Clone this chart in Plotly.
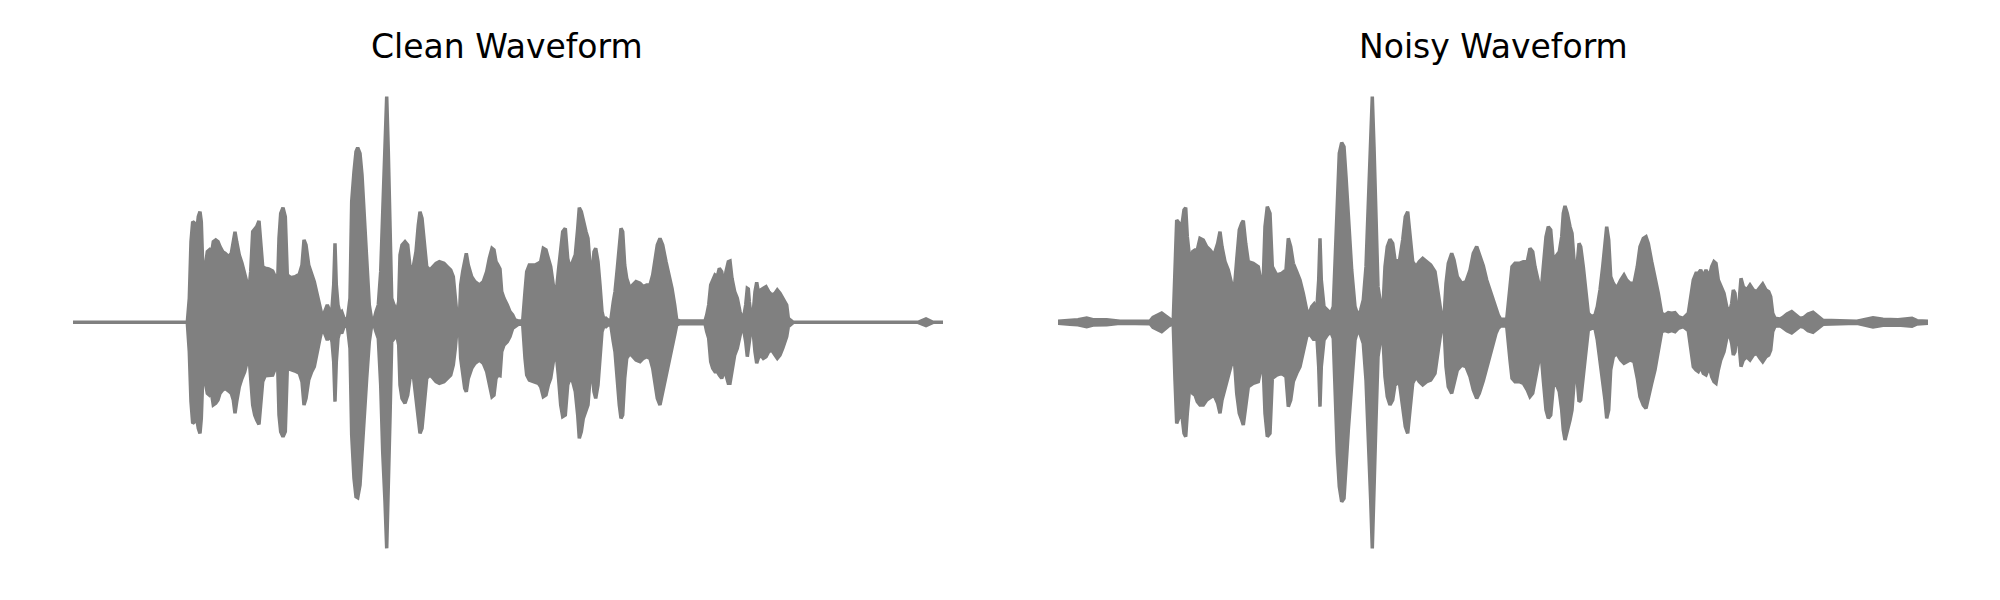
import plotly.graph_objects as go

# ---- data: waveform envelopes (time in s, amplitude) ----
clean_t = [0.0, 1.143, 1.163, 1.18, 1.197, 1.217, 1.237, 1.253, 1.27, 1.283, 1.297, 1.323, 1.343, 1.363, 1.383,
           1.403, 1.427, 1.45, 1.47, 1.497, 1.523, 1.557, 1.583, 1.603, 1.62, 1.637, 1.663, 1.69, 1.717, 1.737,
           1.757, 1.777, 1.797, 1.817, 1.837, 1.86, 1.877, 1.897, 1.923, 1.957, 1.997, 2.023, 2.043, 2.06, 2.077,
           2.1, 2.123, 2.143, 2.177, 2.22, 2.263, 2.29, 2.31, 2.33, 2.357, 2.387, 2.413, 2.443, 2.47, 2.497,
           2.517, 2.543, 2.57, 2.59, 2.607, 2.62, 2.633, 2.65, 2.67, 2.687, 2.71, 2.743, 2.77, 2.787, 2.81,
           2.83, 2.847, 2.87, 2.89, 2.91, 2.937, 2.963, 2.987, 3.01, 3.03, 3.053, 3.077, 3.097, 3.12, 3.137,
           3.153, 3.17, 3.187, 3.21, 3.237, 3.257, 3.27, 3.29, 3.32, 3.347, 3.37, 3.403, 3.43, 3.453, 3.47,
           3.49, 3.51, 3.537, 3.57, 3.603, 3.63, 3.663, 3.71, 3.743, 3.777, 3.803, 3.823, 3.843, 3.863, 3.877,
           3.897, 3.917, 3.933, 3.953, 3.987, 4.02, 4.063, 4.103, 4.137, 4.163, 4.19, 4.21, 4.23, 4.25, 4.27,
           4.287, 4.31, 4.343, 4.37, 4.397, 4.42, 4.453, 4.497, 4.52, 4.537, 4.563, 4.59, 4.62, 4.653, 4.677,
           4.703, 4.73, 4.753, 4.777, 4.803, 4.83, 4.853, 4.877, 4.897, 4.923, 4.947, 4.97, 4.997, 5.023, 5.047,
           5.063, 5.083, 5.103, 5.13, 5.15, 5.17, 5.19, 5.21, 5.227, 5.25, 5.27, 5.29, 5.31, 5.33, 5.35,
           5.377, 5.403, 5.42, 5.443, 5.463, 5.48, 5.497, 5.517, 5.537, 5.57, 5.597, 5.63, 5.67, 5.703, 5.737,
           5.77, 5.797, 5.82, 5.843, 5.87, 5.897, 5.93, 5.963, 5.99, 6.017, 6.037, 6.07, 6.32, 6.337, 6.357,
           6.377, 6.397, 6.42, 6.443, 6.463, 6.487, 6.51, 6.53, 6.553, 6.57, 6.59, 6.617, 6.643, 6.67, 6.69,
           6.71, 6.727, 6.743, 6.753, 6.763, 6.783, 6.803, 6.82, 6.837, 6.853, 6.877, 6.903, 6.93, 6.957, 6.987,
           7.02, 7.043, 7.07, 7.097, 7.123, 7.137, 7.153, 7.177, 7.203, 8.45, 8.53, 8.60, 8.70]
clean_upper = [0.0, 0.0, 0.072, 0.242, 0.302, 0.297, 0.272, 0.317, 0.332, 0.302, 0.172, 0.167, 0.212, 0.217, 0.202,
               0.242, 0.247, 0.242, 0.227, 0.212, 0.207, 0.197, 0.207, 0.242, 0.272, 0.242, 0.202, 0.177, 0.147, 0.122,
               0.092, 0.152, 0.272, 0.282, 0.287, 0.304, 0.252, 0.167, 0.162, 0.16, 0.154, 0.137, 0.087, 0.252, 0.327,
               0.344, 0.317, 0.142, 0.134, 0.137, 0.144, 0.172, 0.247, 0.232, 0.172, 0.142, 0.122, 0.082, 0.042, 0.012,
               0.032, 0.052, 0.032, 0.042, 0.112, 0.237, 0.112, 0.052, 0.027, 0.032, 0.012, 0.007, 0.072, 0.362, 0.452,
               0.512, 0.524, 0.507, 0.442, 0.332, 0.162, 0.052, 0.007, 0.007, 0.032, 0.052, 0.152, 0.312, 0.512, 0.677,
               0.512, 0.292, 0.072, 0.052, 0.032, 0.062, 0.202, 0.232, 0.242, 0.232, 0.167, 0.167, 0.212, 0.292, 0.332,
               0.312, 0.242, 0.167, 0.157, 0.167, 0.177, 0.182, 0.177, 0.167, 0.157, 0.137, 0.072, 0.012, 0.007, 0.112,
               0.152, 0.192, 0.207, 0.172, 0.137, 0.122, 0.112, 0.122, 0.152, 0.192, 0.222, 0.217, 0.182, 0.172, 0.16,
               0.092, 0.072, 0.052, 0.032, 0.022, 0.007, 0.004, 0.004, 0.092, 0.152, 0.172, 0.172, 0.172, 0.177, 0.182,
               0.222, 0.217, 0.192, 0.167, 0.112, 0.082, 0.152, 0.232, 0.272, 0.282, 0.192, 0.162, 0.182, 0.202, 0.282,
               0.344, 0.332, 0.302, 0.272, 0.252, 0.172, 0.142, 0.212, 0.222, 0.182, 0.112, 0.032, 0.007, 0.012, 0.007,
               0.004, 0.062, 0.092, 0.162, 0.242, 0.282, 0.272, 0.172, 0.132, 0.102, 0.112, 0.122, 0.117, 0.107, 0.112,
               0.112, 0.142, 0.192, 0.232, 0.252, 0.232, 0.182, 0.142, 0.102, 0.052, 0.007, 0.004, 0.004, 0.022, 0.052,
               0.112, 0.127, 0.142, 0.137, 0.162, 0.152, 0.112, 0.152, 0.182, 0.184, 0.132, 0.092, 0.072, 0.032, 0.012,
               0.022, 0.052, 0.102, 0.1, 0.062, 0.012, 0.032, 0.092, 0.12, 0.092, 0.097, 0.102, 0.107, 0.092, 0.082,
               0.087, 0.097, 0.087, 0.072, 0.062, 0.052, 0.012, 0.007, 0.0, 0.0, 0.01, 0.0, 0.0]
clean_lower = [0.0, 0.0, -0.088, -0.238, -0.303, -0.298, -0.288, -0.318, -0.333, -0.288, -0.168, -0.178, -0.213, -0.218, -0.208,
               -0.248, -0.243, -0.233, -0.213, -0.203, -0.198, -0.206, -0.213, -0.233, -0.273, -0.238, -0.193, -0.168, -0.148, -0.123,
               -0.088, -0.168, -0.248, -0.278, -0.293, -0.306, -0.253, -0.178, -0.16, -0.16, -0.158, -0.138, -0.088, -0.278, -0.328,
               -0.343, -0.328, -0.138, -0.143, -0.146, -0.153, -0.178, -0.248, -0.228, -0.173, -0.148, -0.133, -0.093, -0.048, -0.013,
               -0.033, -0.053, -0.038, -0.058, -0.118, -0.238, -0.118, -0.048, -0.025, -0.033, -0.013, -0.008, -0.078, -0.338, -0.468,
               -0.523, -0.526, -0.488, -0.408, -0.288, -0.168, -0.058, -0.008, -0.008, -0.028, -0.048, -0.188, -0.388, -0.538, -0.678,
               -0.538, -0.288, -0.058, -0.048, -0.038, -0.068, -0.188, -0.228, -0.243, -0.218, -0.168, -0.158, -0.218, -0.288, -0.333,
               -0.318, -0.248, -0.168, -0.158, -0.168, -0.178, -0.183, -0.178, -0.168, -0.158, -0.128, -0.078, -0.01, -0.008, -0.108,
               -0.148, -0.198, -0.208, -0.168, -0.138, -0.123, -0.113, -0.123, -0.148, -0.188, -0.223, -0.218, -0.168, -0.158, -0.16,
               -0.088, -0.068, -0.058, -0.043, -0.018, -0.013, -0.006, -0.006, -0.108, -0.158, -0.173, -0.176, -0.178, -0.183, -0.193,
               -0.223, -0.218, -0.188, -0.168, -0.118, -0.088, -0.158, -0.248, -0.283, -0.278, -0.188, -0.168, -0.178, -0.208, -0.278,
               -0.348, -0.328, -0.288, -0.263, -0.248, -0.168, -0.148, -0.208, -0.228, -0.188, -0.108, -0.028, -0.01, -0.013, -0.008,
               -0.006, -0.058, -0.088, -0.168, -0.248, -0.288, -0.278, -0.168, -0.108, -0.093, -0.103, -0.113, -0.118, -0.108, -0.103,
               -0.108, -0.138, -0.188, -0.228, -0.248, -0.208, -0.158, -0.118, -0.078, -0.038, -0.008, -0.004, -0.004, -0.028, -0.048,
               -0.118, -0.138, -0.148, -0.148, -0.158, -0.168, -0.148, -0.158, -0.183, -0.183, -0.148, -0.098, -0.078, -0.038, -0.013,
               -0.028, -0.058, -0.103, -0.098, -0.058, -0.013, -0.033, -0.088, -0.123, -0.108, -0.098, -0.108, -0.103, -0.088, -0.083,
               -0.098, -0.108, -0.098, -0.078, -0.058, -0.043, -0.013, -0.008, 0.0, 0.0, -0.01, 0.0, 0.0]

noisy_t = [0.0, 0.12, 0.20, 0.287, 0.35, 0.487, 0.62, 0.92, 0.95, 1.037, 1.10, 1.137, 1.153, 1.17, 1.187,
           1.213, 1.237, 1.26, 1.277, 1.293, 1.32, 1.347, 1.37, 1.393, 1.42, 1.453, 1.487, 1.52, 1.56, 1.597,
           1.62, 1.64, 1.67, 1.703, 1.737, 1.76, 1.787, 1.813, 1.837, 1.853, 1.877, 1.903, 1.953, 2.003, 2.027,
           2.047, 2.07, 2.093, 2.12, 2.143, 2.187, 2.237, 2.28, 2.303, 2.327, 2.353, 2.387, 2.42, 2.453, 2.487,
           2.513, 2.537, 2.56, 2.587, 2.607, 2.62, 2.633, 2.66, 2.693, 2.727, 2.753, 2.773, 2.793, 2.813, 2.837,
           2.86, 2.88, 2.903, 2.937, 2.97, 3.003, 3.027, 3.053, 3.08, 3.103, 3.127, 3.143, 3.16, 3.18, 3.2,
           3.22, 3.247, 3.27, 3.293, 3.32, 3.347, 3.37, 3.413, 3.447, 3.473, 3.497, 3.52, 3.547, 3.58, 3.613,
           3.647, 3.687, 3.727, 3.77, 3.803, 3.837, 3.86, 3.88, 3.903, 3.937, 3.96, 3.993, 4.037, 4.08, 4.12,
           4.153, 4.187, 4.213, 4.253, 4.287, 4.32, 4.353, 4.38, 4.403, 4.427, 4.487, 4.52, 4.54, 4.57, 4.613,
           4.653, 4.693, 4.72, 4.747, 4.77, 4.803, 4.83, 4.853, 4.88, 4.903, 4.927, 4.953, 4.98, 5.013, 5.037,
           5.053, 5.07, 5.093, 5.12, 5.14, 5.16, 5.187, 5.21, 5.227, 5.253, 5.28, 5.303, 5.337, 5.37, 5.393,
           5.42, 5.447, 5.47, 5.487, 5.507, 5.527, 5.553, 5.587, 5.627, 5.66, 5.687, 5.72, 5.76, 5.793, 5.82,
           5.853, 5.88, 5.903, 5.937, 5.97, 6.003, 6.037, 6.07, 6.103, 6.137, 6.17, 6.203, 6.253, 6.303, 6.353,
           6.38, 6.403, 6.427, 6.453, 6.48, 6.513, 6.537, 6.56, 6.58, 6.603, 6.627, 6.66, 6.687, 6.713, 6.737,
           6.753, 6.77, 6.787, 6.807, 6.83, 6.853, 6.887, 6.92, 6.953, 6.987, 7.02, 7.047, 7.08, 7.107, 7.127,
           7.147, 7.17, 7.22, 7.25, 7.29, 7.337, 7.38, 7.42, 7.46, 7.50, 7.55, 7.60, 7.65, 7.99, 8.05,
           8.15, 8.25, 8.40, 8.54, 8.59, 8.70]
noisy_upper = [0.003, 0.006, 0.008, 0.013, 0.008, 0.008, 0.003, 0.004, 0.015, 0.028, 0.012, 0.006, 0.01, 0.167, 0.307,
               0.297, 0.287, 0.337, 0.344, 0.257, 0.182, 0.212, 0.217, 0.217, 0.252, 0.247, 0.227, 0.217, 0.202, 0.237,
               0.272, 0.227, 0.182, 0.157, 0.117, 0.087, 0.187, 0.277, 0.297, 0.305, 0.237, 0.182, 0.177, 0.167, 0.127,
               0.077, 0.287, 0.347, 0.327, 0.167, 0.142, 0.147, 0.157, 0.252, 0.227, 0.177, 0.152, 0.127, 0.087, 0.037,
               0.027, 0.047, 0.055, 0.037, 0.127, 0.252, 0.127, 0.047, 0.037, 0.027, 0.047, 0.207, 0.417, 0.507, 0.539,
               0.527, 0.437, 0.327, 0.157, 0.047, 0.017, 0.037, 0.067, 0.167, 0.377, 0.547, 0.677, 0.527, 0.297, 0.107,
               0.067, 0.027, 0.167, 0.227, 0.249, 0.237, 0.187, 0.182, 0.247, 0.317, 0.332, 0.257, 0.182, 0.167, 0.182,
               0.192, 0.182, 0.172, 0.152, 0.087, 0.017, 0.012, 0.117, 0.177, 0.207, 0.187, 0.137, 0.117, 0.122, 0.157,
               0.207, 0.227, 0.207, 0.17, 0.127, 0.097, 0.067, 0.037, 0.022, 0.009, 0.009, 0.107, 0.167, 0.177, 0.177,
               0.182, 0.182, 0.222, 0.212, 0.167, 0.117, 0.087, 0.167, 0.257, 0.287, 0.277, 0.187, 0.197, 0.212, 0.257,
               0.327, 0.349, 0.327, 0.287, 0.267, 0.187, 0.157, 0.237, 0.227, 0.167, 0.097, 0.027, 0.017, 0.022, 0.047,
               0.097, 0.167, 0.247, 0.287, 0.247, 0.137, 0.117, 0.102, 0.127, 0.142, 0.127, 0.117, 0.117, 0.167, 0.227,
               0.252, 0.257, 0.237, 0.182, 0.137, 0.087, 0.027, 0.022, 0.029, 0.027, 0.029, 0.017, 0.012, 0.027, 0.127,
               0.147, 0.147, 0.157, 0.137, 0.157, 0.137, 0.167, 0.182, 0.177, 0.127, 0.107, 0.087, 0.047, 0.027, 0.057,
               0.097, 0.087, 0.027, 0.047, 0.132, 0.107, 0.097, 0.112, 0.097, 0.092, 0.107, 0.115, 0.097, 0.092, 0.077,
               0.027, 0.012, 0.01, 0.015, 0.025, 0.032, 0.022, 0.012, 0.015, 0.025, 0.030, 0.018, 0.006, 0.003, 0.008,
               0.014, 0.009, 0.008, 0.012, 0.005, 0.003]
noisy_lower = [-0.003, -0.006, -0.007, -0.013, -0.008, -0.007, -0.003, -0.004, -0.015, -0.028, -0.012, -0.006, -0.01, -0.173, -0.303,
               -0.283, -0.273, -0.333, -0.343, -0.273, -0.183, -0.213, -0.218, -0.238, -0.248, -0.248, -0.233, -0.228, -0.218, -0.243,
               -0.273, -0.233, -0.193, -0.163, -0.123, -0.093, -0.213, -0.273, -0.293, -0.308, -0.253, -0.193, -0.183, -0.178, -0.143,
               -0.093, -0.273, -0.343, -0.333, -0.168, -0.158, -0.153, -0.163, -0.253, -0.233, -0.178, -0.153, -0.133, -0.093, -0.043,
               -0.033, -0.043, -0.053, -0.033, -0.133, -0.253, -0.133, -0.053, -0.038, -0.028, -0.048, -0.223, -0.393, -0.493, -0.538,
               -0.528, -0.433, -0.323, -0.173, -0.053, -0.018, -0.038, -0.063, -0.173, -0.373, -0.533, -0.678, -0.523, -0.293, -0.103,
               -0.063, -0.033, -0.163, -0.223, -0.248, -0.233, -0.188, -0.178, -0.253, -0.313, -0.333, -0.263, -0.183, -0.163, -0.178,
               -0.188, -0.178, -0.173, -0.153, -0.083, -0.013, -0.011, -0.133, -0.193, -0.213, -0.183, -0.143, -0.128, -0.133, -0.163,
               -0.203, -0.228, -0.213, -0.175, -0.143, -0.103, -0.063, -0.033, -0.018, -0.011, -0.011, -0.113, -0.168, -0.178, -0.178,
               -0.183, -0.203, -0.223, -0.213, -0.173, -0.123, -0.088, -0.173, -0.263, -0.288, -0.278, -0.193, -0.183, -0.208, -0.263,
               -0.323, -0.353, -0.323, -0.293, -0.263, -0.183, -0.153, -0.238, -0.233, -0.173, -0.093, -0.023, -0.018, -0.018, -0.053,
               -0.103, -0.173, -0.233, -0.288, -0.263, -0.143, -0.103, -0.093, -0.113, -0.123, -0.118, -0.113, -0.118, -0.168, -0.223,
               -0.248, -0.258, -0.233, -0.183, -0.143, -0.093, -0.028, -0.025, -0.028, -0.025, -0.028, -0.018, -0.013, -0.025, -0.133,
               -0.143, -0.148, -0.133, -0.153, -0.158, -0.133, -0.163, -0.178, -0.183, -0.143, -0.113, -0.088, -0.048, -0.033, -0.063,
               -0.098, -0.088, -0.033, -0.053, -0.133, -0.113, -0.103, -0.113, -0.098, -0.093, -0.108, -0.118, -0.103, -0.098, -0.083,
               -0.028, -0.012, -0.01, -0.015, -0.025, -0.032, -0.022, -0.012, -0.015, -0.025, -0.030, -0.018, -0.006, -0.003, -0.008,
               -0.014, -0.009, -0.008, -0.012, -0.005, -0.003]

titles = ["Clean Waveform", "Noisy Waveform"]

GRAY = "#808080"


def outline(t, up, low):
    xs = list(t) + list(reversed(t))
    ys = list(up) + list(reversed(low))
    return xs, ys


fig = go.Figure()
for i, (t, up, low) in enumerate([(clean_t, clean_upper, clean_lower),
                                   (noisy_t, noisy_upper, noisy_lower)]):
    xs, ys = outline(t, up, low)
    fig.add_trace(go.Scatter(
        x=xs, y=ys, mode="lines", fill="toself", fillcolor=GRAY,
        line=dict(color=GRAY, width=3.5), hoverinfo="skip", showlegend=False,
        xaxis="x" if i == 0 else "x2", yaxis="y" if i == 0 else "y2"))

# the page body adds an 8px offset, so the layout is shifted by -8px to compensate
yr = [-0.857, 0.943]
fig.update_layout(
    width=2000, height=600,
    margin=dict(l=0, r=0, t=0, b=0),
    paper_bgcolor="white", plot_bgcolor="white",
    xaxis=dict(domain=[65 / 2000, 935 / 2000], range=[0, 8.70], visible=False),
    yaxis=dict(domain=[0, 1], range=yr, visible=False),
    xaxis2=dict(domain=[1050 / 2000, 1920 / 2000], range=[0, 8.70], visible=False),
    yaxis2=dict(domain=[0, 1], range=yr, visible=False, anchor="x2"),
    font=dict(family="DejaVu Sans", color="black"),
)
for cx, title in zip([499, 1485], titles):
    fig.add_annotation(text=title, x=cx / 2000, y=1 - 38 / 600, xref="paper", yref="paper",
                       xanchor="center", yanchor="middle", showarrow=False,
                       font=dict(family="DejaVu Sans", size=33, color="black"))

fig.write_html("out.html")
